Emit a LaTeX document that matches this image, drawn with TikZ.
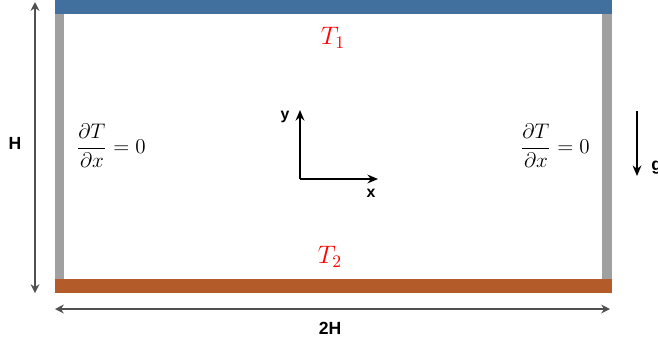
\documentclass[tikz,border=0pt]{standalone}
\usepackage{amsmath,amssymb}
\usepackage{fontspec}
\setsansfont{Liberation Sans}
\usetikzlibrary{positioning,calc,arrows.meta}
\definecolor{hotblue}{HTML}{41709F}
\definecolor{coldred}{HTML}{B35C2A}
\definecolor{wallgray}{HTML}{A0A0A0}
\definecolor{dimgray}{HTML}{505050}

\begin{document}
\begin{tikzpicture}[x=0.02cm, y=-0.02cm, every node/.style={inner sep=0pt}, lbl/.style={font=\sffamily\bfseries\normalsize}, temp/.style={text=red, font=\Large}, bc/.style={font=\large}, dim/.style={{Stealth[length=5pt,width=5pt]}-{Stealth[length=5pt,width=5pt]}, dimgray, line width=0.9pt}, axis/.style={-{Stealth[length=6pt,width=5pt]}, line width=1.1pt}]
    \useasboundingbox (0,0) rectangle (658,346);
    % walls
    \fill[wallgray] (55,14) rectangle (64,279);
    \fill[wallgray] (602,14) rectangle (612,279);
    \fill[hotblue] (55,0) rectangle (612,14);
    \fill[coldred] (55,279) rectangle (612,293);
    % dimensions
    \coordinate (Htop) at (35,2);
    \coordinate (Hbot) at (35,293);
    \draw[dim] (Htop) -- (Hbot);
    \node[lbl] (H) at (15,143) {H};
    \coordinate (Wleft) at (55,309);
    \coordinate (Wright) at (610,309);
    \draw[dim] (Wleft) -- (Wright);
    \node[lbl] (W) at (330,328) {2H};
    % temperatures
    \node[temp] (T1) at (333,38) {$T_1$};
    \node[temp] (T2) at (330,257) {$T_2$};
    \node[bc] (BCl) at (111,146) {$\dfrac{\partial T}{\partial x}=0$};
    \node[bc] (BCr) at (555,146) {$\dfrac{\partial T}{\partial x}=0$};
    % axes
    \coordinate (O) at (300,179);
    \coordinate (Y) at (300,110);
    \coordinate (X) at (378,179);
    \draw[axis] (O) -- (Y);
    \draw[axis] (O) -- (X);
    \node[lbl, font=\sffamily\bfseries\small] (ylab) at (285,117) {y};
    \node[lbl, font=\sffamily\bfseries\small] (xlab) at (371,193) {x};
    % gravity
    \coordinate (g0) at (637,111);
    \coordinate (g1) at (637,176);
    \draw[-{Stealth[length=6pt,width=5pt]}, line width=0.9pt] (g0) -- (g1);
    \node[lbl, anchor=west] (g) at (651,168) {g};
  \end{tikzpicture}
\end{document}
